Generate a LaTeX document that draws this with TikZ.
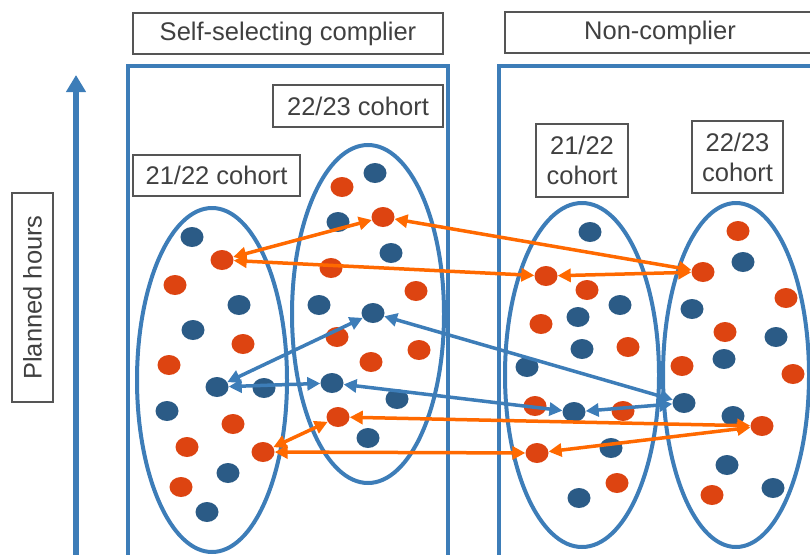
\documentclass[tikz,border=0pt]{standalone}
\usepackage{fontspec}
\setmainfont{Liberation Sans}
\usetikzlibrary{arrows.meta,shapes.geometric}
\definecolor{frameblue}{RGB}{61,125,184}
\definecolor{dotblue}{RGB}{43,91,134}
\definecolor{dotred}{RGB}{221,68,17}
\definecolor{arrorange}{RGB}{255,105,0}
\definecolor{textgray}{RGB}{64,64,64}
\definecolor{boxgray}{RGB}{85,85,85}
\tikzset{
  label box/.style={draw=boxgray, line width=1.3pt, text=textgray, inner sep=0pt,
    font=\fontsize{25.5}{30}\selectfont, align=center},
  frame/.style={draw=frameblue, line width=4pt},
  group/.style={draw=frameblue, line width=4pt},
  bdot/.style={ellipse, fill=dotblue, inner sep=0pt, minimum width=23pt, minimum height=20pt},
  rdot/.style={ellipse, fill=dotred, inner sep=0pt, minimum width=23pt, minimum height=20pt},
  olink/.style={draw=arrorange, line width=3.5pt, {Triangle[length=13pt,width=13pt]}-{Triangle[length=13pt,width=13pt]}},
  blink/.style={draw=frameblue, line width=3.5pt, {Triangle[length=13pt,width=13pt]}-{Triangle[length=13pt,width=13pt]}},
}
\begin{document}
\begin{tikzpicture}[x=1pt,y=-1pt]
\useasboundingbox (0,0) rectangle (810,554);
\clip (0,0) rectangle (810,554);
% header boxes
\node[label box, minimum width=310pt, minimum height=41pt] (hself) at (288,33.5) {Self-selecting complier};
\node[label box, minimum width=310pt, minimum height=41pt] (hnon) at (660,32.5) {Non-complier};
% frames
\draw[frame] (128,570) -- (128,66) -- (448,66) -- (448,570);
\draw[frame] (499,570) -- (499,66) -- (830,66);
% axis
\coordinate (axb) at (76,570);
\coordinate (axt) at (76,75);
\draw[draw=frameblue, line width=6pt, -{Triangle[length=17pt,width=19pt]}] (axb) -- (axt);
\node[label box, rotate=90, minimum width=209pt, minimum height=41pt] (ph) at (32.5,297.5) {Planned hours};
% cohort boxes
\node[label box, minimum width=170pt, minimum height=42pt] (c1) at (358,106) {22/23 cohort};
\node[label box, minimum width=167pt, minimum height=41pt] (c2) at (216.5,175.5) {21/22 cohort};
\node[label box, minimum width=92pt, minimum height=73pt] (c3) at (582,160.5) {21/22\\cohort};
\node[label box, minimum width=91pt, minimum height=72pt] (c4) at (737.5,157) {22/23\\cohort};
% group ellipses
\draw[group] (212,380) ellipse [x radius=75pt, y radius=172pt];
\draw[group] (368,314) ellipse [x radius=76pt, y radius=169pt];
\draw[group] (582,375) ellipse [x radius=77pt, y radius=172pt];
\draw[group] (736,375) ellipse [x radius=73pt, y radius=172pt];
% dots group a
\node[bdot] (a1) at (192,237) {};
\node[rdot] (a2) at (222,260) {};
\node[rdot] (a3) at (175,285) {};
\node[bdot] (a4) at (239,305) {};
\node[bdot] (a5) at (193,330) {};
\node[rdot] (a6) at (243,344) {};
\node[rdot] (a7) at (169,365) {};
\node[bdot] (a8) at (217,387) {};
\node[bdot] (a9) at (264,388) {};
\node[bdot] (a10) at (167,411) {};
\node[rdot] (a11) at (233,424) {};
\node[rdot] (a12) at (187,447) {};
\node[rdot] (a13) at (263,452) {};
\node[bdot] (a14) at (228,473) {};
\node[rdot] (a15) at (181,487) {};
\node[bdot] (a16) at (207,512) {};
% dots group b
\node[bdot] (b1) at (375,173) {};
\node[rdot] (b2) at (342,187) {};
\node[bdot] (b3) at (338,222) {};
\node[rdot] (b4) at (383,217) {};
\node[bdot] (b5) at (391,253) {};
\node[rdot] (b6) at (331,268) {};
\node[rdot] (b7) at (416,291) {};
\node[bdot] (b8) at (319,305) {};
\node[bdot] (b9) at (373,313) {};
\node[rdot] (b10) at (337,337) {};
\node[rdot] (b11) at (419,350) {};
\node[rdot] (b12) at (371,362) {};
\node[bdot] (b13) at (332,383) {};
\node[bdot] (b14) at (397,399) {};
\node[rdot] (b15) at (338,417) {};
\node[bdot] (b16) at (368,438) {};
% dots group c
\node[bdot] (cc1) at (590,232) {};
\node[rdot] (cc2) at (546,276) {};
\node[rdot] (cc3) at (587,290) {};
\node[bdot] (cc4) at (620,305) {};
\node[bdot] (cc5) at (578,317) {};
\node[rdot] (cc6) at (541,324) {};
\node[bdot] (cc7) at (582,349) {};
\node[rdot] (cc8) at (628,347) {};
\node[bdot] (cc9) at (527,367) {};
\node[rdot] (cc10) at (535,406) {};
\node[bdot] (cc11) at (574,412) {};
\node[rdot] (cc12) at (623,411) {};
\node[bdot] (cc13) at (611,448) {};
\node[rdot] (cc14) at (537,453) {};
\node[rdot] (cc15) at (617,483) {};
\node[bdot] (cc16) at (579,498) {};
% dots group d
\node[rdot] (d1) at (738,231) {};
\node[bdot] (d2) at (743,262) {};
\node[rdot] (d3) at (703,272) {};
\node[rdot] (d4) at (786,298) {};
\node[bdot] (d5) at (692,309) {};
\node[rdot] (d6) at (725,332) {};
\node[bdot] (d7) at (776,337) {};
\node[rdot] (d8) at (682,366) {};
\node[bdot] (d9) at (724,359) {};
\node[rdot] (d10) at (793,374) {};
\node[bdot] (d11) at (684,403) {};
\node[bdot] (d12) at (733,416) {};
\node[rdot] (d13) at (762,426) {};
\node[bdot] (d14) at (727,465) {};
\node[bdot] (d15) at (773,488) {};
\node[rdot] (d16) at (712,495) {};
% orange links
\draw[olink] (a2) -- (b4);
\draw[olink] (a2) -- (cc2);
\draw[olink] (b4) -- (d3);
\draw[olink] (cc2) -- (d3);
\draw[olink] (a13) -- (b15);
\draw[olink] (a13) -- (cc14);
\draw[olink] (b15) -- (d13);
\draw[olink] (cc14) -- (d13);
% blue links
\draw[blink] (a8) -- (b9);
\draw[blink] (a8) -- (b13);
\draw[blink] (b9) -- (d11);
\draw[blink] (b13) -- (cc11);
\draw[blink] (cc11) -- (d11);
\end{tikzpicture}
\end{document}
